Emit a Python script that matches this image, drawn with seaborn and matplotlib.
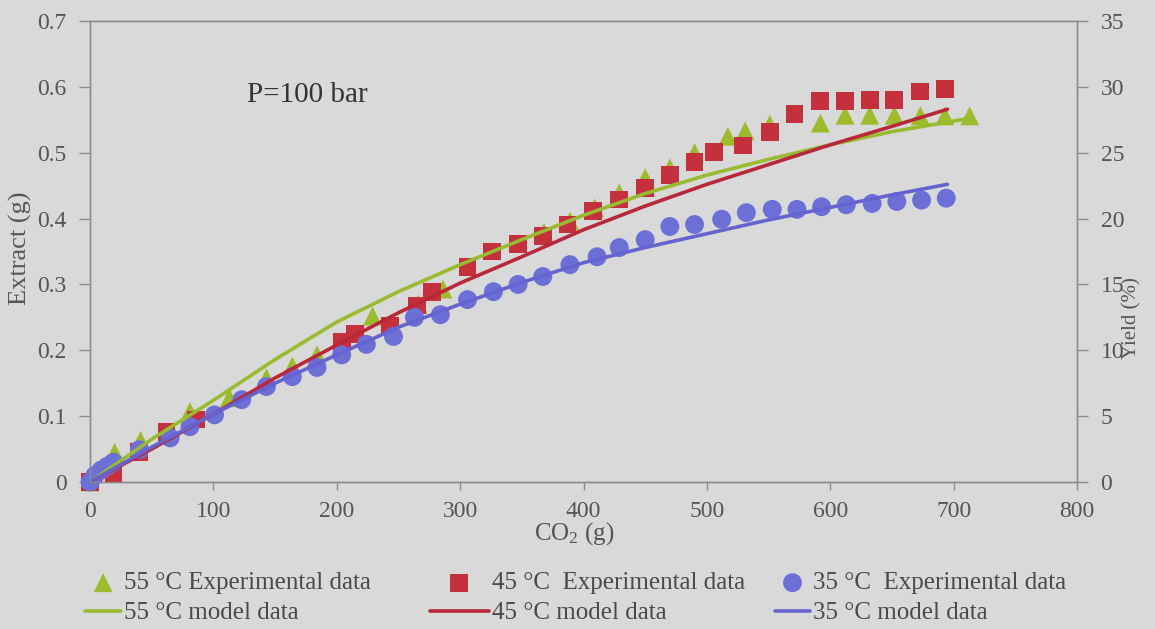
import numpy as np
import pandas as pd
import matplotlib
matplotlib.use("Agg")
import matplotlib.pyplot as plt
import seaborn as sns

# ---------------- data ----------------
x55 = [0, 10, 20, 41, 81, 113, 143, 164, 184, 229, 266, 286, 368, 389, 409, 429,
       450, 470, 490, 517, 531, 551, 592, 612, 632, 652, 673, 693, 713]
y55 = [0, 0.022, 0.045, 0.063, 0.107, 0.128, 0.158, 0.176, 0.193, 0.252, 0.27, 0.293,
       0.379, 0.396, 0.416, 0.439, 0.462, 0.477, 0.5, 0.525, 0.533, 0.543, 0.545,
       0.557, 0.557, 0.557, 0.556, 0.556, 0.556]

x45 = [0, 19, 40, 62, 86, 204, 215, 243, 265, 277, 306, 326, 347, 367, 387, 408,
       429, 450, 470, 490, 506, 529, 551, 571, 592, 612, 632, 652, 673, 693]
y45 = [0, 0.012, 0.046, 0.076, 0.095, 0.212, 0.225, 0.237, 0.268, 0.288, 0.326,
       0.35, 0.361, 0.373, 0.391, 0.411, 0.429, 0.447, 0.466, 0.486, 0.501, 0.511,
       0.531, 0.559, 0.578, 0.578, 0.58, 0.58, 0.593, 0.597]

x35 = [0, 4, 9, 14, 19, 40, 65, 81, 101, 123, 143, 164, 184, 204, 224, 246, 263,
       284, 306, 327, 347, 367, 389, 411, 429, 450, 470, 490, 512, 532, 553, 573,
       593, 613, 634, 654, 674, 694]
y35 = [0, 0.01, 0.018, 0.024, 0.03, 0.049, 0.067, 0.084, 0.102, 0.125, 0.145, 0.16,
       0.174, 0.193, 0.209, 0.221, 0.25, 0.254, 0.277, 0.289, 0.3, 0.312, 0.33,
       0.342, 0.356, 0.368, 0.388, 0.391, 0.399, 0.409, 0.414, 0.414, 0.418, 0.421,
       0.423, 0.426, 0.428, 0.431]

xm55 = [0, 50, 100, 150, 200, 250, 300, 350, 400, 450, 500, 550, 600, 650, 715]
ym55 = [0, 0.065, 0.124, 0.186, 0.243, 0.289, 0.33, 0.368, 0.405, 0.438, 0.466,
        0.49, 0.512, 0.532, 0.553]

xm45 = [0, 50, 100, 150, 200, 250, 300, 350, 400, 450, 500, 550, 600, 650, 695]
ym45 = [0, 0.05, 0.103, 0.158, 0.208, 0.257, 0.302, 0.342, 0.383, 0.419, 0.452,
        0.482, 0.512, 0.54, 0.566]

xm35 = [0, 50, 100, 150, 200, 250, 300, 350, 400, 450, 500, 550, 600, 650, 695]
ym35 = [0, 0.053, 0.103, 0.15, 0.193, 0.235, 0.27, 0.303, 0.333, 0.356, 0.377,
        0.398, 0.417, 0.436, 0.452]

labels_exp = ["55 °C Experimental data", "45 °C  Experimental data", "35 °C  Experimental data"]
labels_mod = ["55 °C model data", "45 °C model data", "35 °C model data"]
x_ticks = [0, 100, 200, 300, 400, 500, 600, 700, 800]
y_ticks = [0, 0.1, 0.2, 0.3, 0.4, 0.5, 0.6, 0.7]
y2_ticks = [0, 5, 10, 15, 20, 25, 30, 35]

# ---------------- style ----------------
BG = "#d9d9d9"
TXT = "#555555"
AXC = "#8c8c8c"
GREEN = "#9dbb2c"
RED = "#c4303c"
BLUE = "#6b6fd6"
GREEN_L = "#98bb30"
RED_L = "#b8283a"
BLUE_L = "#6563cf"

sns.set_theme(style="white")
plt.rcParams["font.family"] = ["Liberation Serif", "DejaVu Serif"]
plt.rcParams["mathtext.default"] = "regular"
FS = 17

W, H = 1155, 629
fig = plt.figure(figsize=(W / 100, H / 100), dpi=100, facecolor=BG)
ax = fig.add_axes([90 / W, 1 - 482 / H, 987 / W, 461 / H])
ax.set_facecolor(BG)

# experimental data
sns.scatterplot(x=x55, y=y55, marker="^", s=185, color=GREEN, edgecolor="none",
                linewidth=0, ax=ax, label=labels_exp[0], clip_on=False, zorder=3)
sns.scatterplot(x=x45, y=y45, marker="s", s=165, color=RED, edgecolor="none",
                linewidth=0, ax=ax, label=labels_exp[1], clip_on=False, zorder=3)
sns.scatterplot(x=x35, y=y35, marker="o", s=185, color=BLUE, edgecolor="none",
                linewidth=0, ax=ax, label=labels_exp[2], clip_on=False, zorder=3)
# model data
sns.lineplot(x=xm55, y=ym55, color=GREEN_L, lw=2.6, ax=ax, label=labels_mod[0], zorder=4)
sns.lineplot(x=xm45, y=ym45, color=RED_L, lw=2.6, ax=ax, label=labels_mod[1], zorder=4)
sns.lineplot(x=xm35, y=ym35, color=BLUE_L, lw=2.6, ax=ax, label=labels_mod[2], zorder=4)

handles, labels = ax.get_legend_handles_labels()
ax.get_legend().remove()
hd = dict(zip(labels, handles))

ax.set_xlim(0, 800)
ax.set_ylim(0, 0.7)
ax.set_xticks(x_ticks)
ax.set_yticks(y_ticks)
ax.set_xticklabels([f"{v:g}" for v in x_ticks])
ax.set_yticklabels([f"{v:g}" for v in y_ticks])
ax.tick_params(axis="both", which="both", direction="out", colors=AXC,
               labelcolor=TXT, labelsize=FS, width=1)
ax.tick_params(axis="y", length=8, pad=9, left=True)
ax.tick_params(axis="x", length=6, pad=8, bottom=True)
for s in ax.spines.values():
    s.set_color(AXC)
    s.set_linewidth(1)
    s.set_visible(True)

ax.set_xlabel("CO$_2$ (g)", fontsize=18, color=TXT)
ax.xaxis.set_label_coords((574 - 90) / 987, -(534 - 482) / 461)
ax.xaxis.label.set_va("center")
ax.set_ylabel("Extract (g)", fontsize=19, color=TXT)
ax.yaxis.set_label_coords((20 - 90) / 987, (482 - 248) / 461)
ax.yaxis.label.set_va("center")

ax.text(127, 0.587, "P=100 bar", fontsize=21, color="#333333", ha="left", va="center")

ax2 = ax.twinx()
ax2.set_ylim(0, 35)
ax2.set_yticks(y2_ticks)
ax2.set_yticklabels([str(v) for v in y2_ticks])
ax2.tick_params(axis="y", direction="out", length=8, pad=9, colors=AXC,
                labelcolor=TXT, labelsize=FS, width=1, right=True)
for s in ax2.spines.values():
    s.set_color(AXC)
    s.set_linewidth(1)
ax2.set_ylabel("Yield (%)", fontsize=15, color=TXT, rotation=90)
ax2.yaxis.set_label_coords((1132 - 90) / 987, (482 - 318) / 461)
ax2.yaxis.label.set_va("center")
ax2.grid(False)
ax.grid(False)

# legends (three columns, two rows)
cols = [(labels_exp[0], labels_mod[0], 85, 1.45),
        (labels_exp[1], labels_mod[1], 430, 2.35),
        (labels_exp[2], labels_mod[2], 775, 1.4)]
for le, lm, x0, hl in cols:
    lg = fig.legend([hd[le], hd[lm]], [le, lm], loc="center left",
                    bbox_to_anchor=(x0 / W, 1 - 598 / H), frameon=False,
                    fontsize=18, borderpad=0, borderaxespad=0, handlelength=hl,
                    handletextpad=0.12, labelspacing=0.3, labelcolor="#4a4a4a")

fig.savefig("out.png", dpi=100, facecolor=BG)
